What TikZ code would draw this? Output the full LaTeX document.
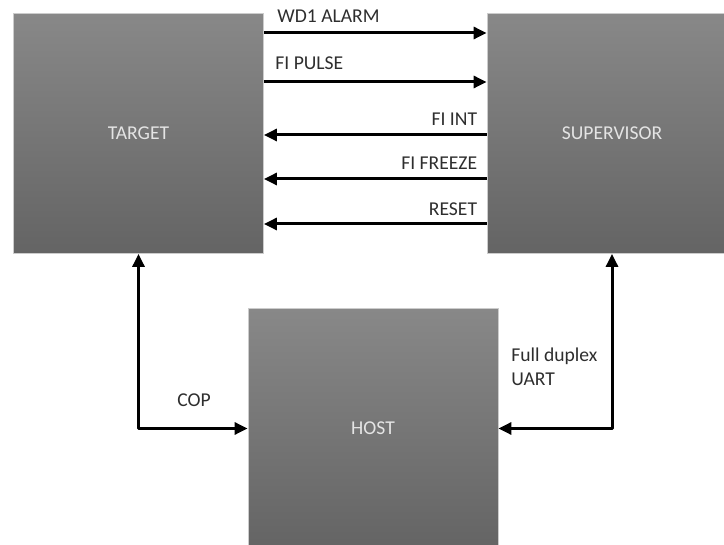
\documentclass[tikz,border=0pt]{standalone}
\usepackage{fontspec}
\setmainfont{Carlito}
\usetikzlibrary{arrows.meta}
\definecolor{boxtop}{HTML}{888888}
\definecolor{boxbot}{HTML}{646464}
\definecolor{boxtxt}{HTML}{E4E4E4}
\definecolor{lbltxt}{HTML}{2E2E2E}
\begin{document}
\begin{tikzpicture}[x=0.5pt, y=-0.5pt,
                    block/.style={rectangle, draw=black!20, line width=0.4pt,
                                  top color=boxtop, bottom color=boxbot,
                                  minimum width=125pt, minimum height=120pt,
                                  text=boxtxt, font=\fontsize{9.8}{12}\selectfont},
                    lbl/.style={text=lbltxt, inner sep=0pt, font=\fontsize{9.8}{12}\selectfont},
                    sig/.style={draw, line width=1.5pt, -{Triangle[length=6.5pt,width=6pt]}},
                    bisig/.style={draw, line width=1.5pt, line join=round,
                                  {Triangle[length=6.5pt,width=6pt]}-{Triangle[length=6.5pt,width=6pt]}}
                ]
                \useasboundingbox (0,0) rectangle (724,545);

                % Blocks
                \node[block] (target) at (138.5, 133.5) {TARGET};
                \node[block] (super) at (612, 133.5) {SUPERVISOR};
                \node[block] (host) at (373, 428.5) {HOST};

                % Target to supervisor
                \draw[sig] (target.east |- 0,33) -- (super.west |- 0,33)
                    node[lbl, at start, anchor=base west, xshift=6pt, yshift=5pt] {WD1 ALARM};
                \draw[sig] (target.east |- 0,82) -- (super.west |- 0,82)
                    node[lbl, at start, anchor=base west, xshift=5pt, yshift=6pt] {FI PULSE};

                % Supervisor to target
                \draw[sig] (super.west |- 0,135) -- (target.east |- 0,135)
                    node[lbl, at start, anchor=base east, xshift=-4pt, yshift=4.5pt] {FI INT};
                \draw[sig] (super.west |- 0,179) -- (target.east |- 0,179)
                    node[lbl, at start, anchor=base east, xshift=-4pt, yshift=4.5pt] {FI FREEZE};
                \draw[sig] (super.west |- 0,224) -- (target.east |- 0,224)
                    node[lbl, at start, anchor=base east, xshift=-4pt, yshift=4pt] {RESET};

                % Host links
                \draw[bisig] (host.west) -| (target.south);
                \draw[bisig] (host.east) -| (super.south);
                \node[lbl, anchor=base] (cop) at (194, 407) {COP};
                \node[lbl, anchor=base west, align=left] (uart) at (511, 386) {Full duplex\\UART};
            \end{tikzpicture}
\end{document}
